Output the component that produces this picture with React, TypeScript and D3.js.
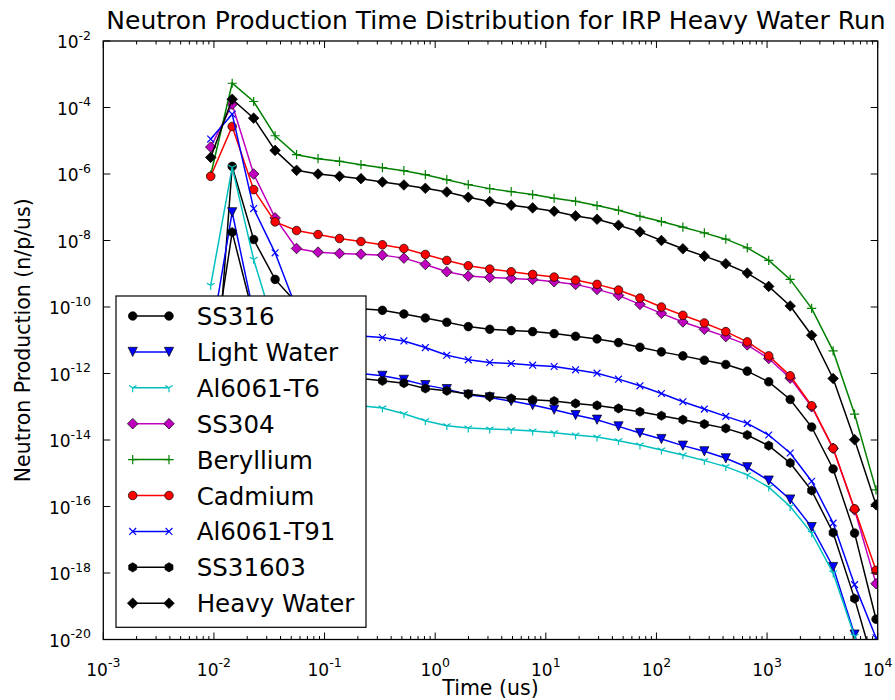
import React from 'react';
import * as d3 from 'd3';

// Bin times (us)
const times = [
  0.00935, 0.01462, 0.02286, 0.03573, 0.05585, 0.0873, 0.1365, 0.2133,
  0.3334, 0.5212, 0.8147, 1.274, 1.991, 3.112, 4.864, 7.603,
  11.89, 18.58, 29.04, 45.39, 70.96, 110.9, 173.4, 271.0,
  423.6, 662.2, 1035, 1618, 2529, 3954, 6180, 9661,
];

// Neutron production per series, stored as log10(n/p/us)
const ss316Log10 = [
  -14.4, -5.77, -7.97, -9.17, -9.88, -9.97, -10.0, -10.05, -10.1, -10.21, -10.33, -10.46, -10.59, -10.67, -10.71, -10.74,
  -10.8, -10.88, -10.96, -11.07, -11.21, -11.35, -11.47, -11.6, -11.73, -11.93, -12.25, -12.78, -13.61, -14.87, -16.8, -19.39,
];
const lightWaterLog10 = [
  -11.0, -7.15, -10.2, -11.0, -11.5, -11.75, -11.9, -12.0, -12.07, -12.19, -12.35, -12.47, -12.64, -12.72, -12.83, -12.95,
  -13.09, -13.25, -13.39, -13.59, -13.79, -13.97, -14.17, -14.34, -14.55, -14.82, -15.22, -15.79, -16.62, -17.82, -19.85, -22.0,
];
const al6061T6Log10 = [
  -9.35, -5.8, -8.57, -10.7, -12.0, -12.5, -12.8, -12.97, -13.04, -13.21, -13.42, -13.57, -13.64, -13.67, -13.69, -13.73,
  -13.78, -13.85, -13.91, -14.02, -14.15, -14.3, -14.45, -14.62, -14.8, -15.05, -15.42, -16.0, -16.8, -18.0, -19.9, -22.0,
];
const ss304Log10 = [
  -5.19, -3.9, -6.0, -7.32, -8.24, -8.35, -8.39, -8.41, -8.44, -8.53, -8.72, -8.94, -9.07, -9.11, -9.14, -9.17,
  -9.24, -9.32, -9.47, -9.65, -9.92, -10.19, -10.45, -10.67, -10.89, -11.14, -11.55, -12.14, -13.0, -14.25, -16.1, -18.32,
];
const berylliumLog10 = [
  -6.03, -3.27, -3.82, -4.85, -5.42, -5.54, -5.62, -5.72, -5.81, -5.9, -6.02, -6.17, -6.32, -6.44, -6.53, -6.62,
  -6.73, -6.82, -6.95, -7.09, -7.27, -7.43, -7.6, -7.77, -7.96, -8.22, -8.6, -9.17, -10.04, -11.32, -13.22, -15.5,
];
const cadmiumLog10 = [
  -6.07, -4.57, -6.47, -7.44, -7.7, -7.82, -7.94, -8.03, -8.13, -8.24, -8.42, -8.6, -8.76, -8.86, -8.94, -9.02,
  -9.1, -9.19, -9.32, -9.49, -9.73, -10.0, -10.25, -10.48, -10.74, -11.05, -11.47, -12.07, -12.97, -14.25, -16.07, -17.92,
];
const al6061T91Log10 = [
  -4.95, -4.2, -7.04, -8.37, -10.05, -10.5, -10.75, -10.87, -10.92, -11.02, -11.22, -11.45, -11.59, -11.67, -11.7, -11.75,
  -11.79, -11.89, -11.99, -12.17, -12.37, -12.6, -12.85, -13.07, -13.29, -13.5, -13.85, -14.39, -15.24, -16.5, -18.35, -19.95,
];
const ss31603Log10 = [
  -12.0, -7.75, -10.3, -11.3, -11.8, -12.0, -12.1, -12.15, -12.22, -12.29, -12.45, -12.52, -12.62, -12.69, -12.75, -12.79,
  -12.83, -12.9, -12.96, -13.05, -13.15, -13.27, -13.39, -13.52, -13.65, -13.85, -14.17, -14.69, -15.52, -16.79, -18.77, -21.0,
];
const heavyWaterLog10 = [
  -5.5, -3.75, -4.32, -5.29, -5.89, -6.0, -6.07, -6.14, -6.24, -6.33, -6.43, -6.54, -6.7, -6.83, -6.94, -7.02,
  -7.12, -7.26, -7.36, -7.54, -7.74, -8.0, -8.25, -8.47, -8.7, -8.98, -9.38, -9.97, -10.85, -12.15, -13.99, -15.95,
];

const seriesNames = ['SS316', 'Light Water', 'Al6061-T6', 'SS304', 'Beryllium', 'Cadmium', 'Al6061-T91', 'SS31603', 'Heavy Water'];
const seriesData = [ss316Log10, lightWaterLog10, al6061T6Log10, ss304Log10, berylliumLog10, cadmiumLog10, al6061T91Log10, ss31603Log10, heavyWaterLog10];
const seriesColors = ['#000000', '#0000ff', '#00bfbf', '#bf00bf', '#008000', '#ff0000', '#0000ff', '#000000', '#000000'];
const seriesMarkers = ['o', 'v', '1', 'D', '+', 'o', 'x', 'h', 'D'];

const xTickExps = [-3, -2, -1, 0, 1, 2, 3, 4];
const yTickExps = [-2, -4, -6, -8, -10, -12, -14, -16, -18, -20];

const W = 895;
const H = 700;
const left = 103.3;
const right = 877.7;
const top = 41;
const bottom = 639.5;

const FONT = 'DejaVu Sans, Verdana, sans-serif';

function Marker({ type, x, y, color }: { type: string; x: number; y: number; color: string }) {
  const edge = { stroke: '#000', strokeWidth: 0.7 };
  switch (type) {
    case 'o':
      return <circle cx={x} cy={y} r={4.3} fill={color} {...edge} />;
    case 'v': {
      const s = 4.6;
      return <path d={`M${x - s},${y - s}L${x + s},${y - s}L${x},${y + s}Z`} fill={color} {...edge} />;
    }
    case 'D': {
      const s = 5.3;
      return <path d={`M${x},${y - s}L${x + s},${y}L${x},${y + s}L${x - s},${y}Z`} fill={color} {...edge} />;
    }
    case 'h': {
      const r = 4.6;
      const pts = d3.range(6).map((i) => {
        const a = (Math.PI / 3) * i - Math.PI / 2;
        return `${x + r * Math.cos(a)},${y + r * Math.sin(a)}`;
      });
      return <polygon points={pts.join(' ')} fill={color} {...edge} />;
    }
    case '+': {
      const s = 4.6;
      return (
        <path d={`M${x - s},${y}L${x + s},${y}M${x},${y - s}L${x},${y + s}`} stroke={color} strokeWidth={1.2} fill="none" />
      );
    }
    case 'x': {
      const s = 3.4;
      return (
        <path d={`M${x - s},${y - s}L${x + s},${y + s}M${x - s},${y + s}L${x + s},${y - s}`} stroke={color} strokeWidth={1.2} fill="none" />
      );
    }
    case '1': {
      const r = 4.4;
      return (
        <path
          d={`M${x},${y}L${x},${y + r}M${x},${y}L${x - 0.866 * r},${y - 0.5 * r}M${x},${y}L${x + 0.866 * r},${y - 0.5 * r}`}
          stroke={color}
          strokeWidth={1.2}
          fill="none"
        />
      );
    }
    default:
      return null;
  }
}

function PowerLabel({ x, y, exp, anchor }: { x: number; y: number; exp: number; anchor: 'middle' | 'end' }) {
  return (
    <text x={x} y={y} textAnchor={anchor} fontFamily={FONT} fontSize={17} fill="#000">
      10
      <tspan dy={-8.5} fontSize={12.5}>
        {exp < 0 ? `\u2212${Math.abs(exp)}`.replace('\u2212', '-') : `${exp}`}
      </tspan>
    </text>
  );
}

export default function App() {
  const x = d3.scaleLog().domain([1e-3, 1e4]).range([left, right]);
  const y = d3.scaleLog().domain([1e-20, 1e-2]).range([bottom, top]);

  const line = d3
    .line<[number, number]>()
    .x((d) => x(d[0]))
    .y((d) => y(d[1]));

  const minorX: number[] = [];
  for (let e = -3; e < 4; e++) {
    for (let m = 2; m <= 9; m++) minorX.push(m * Math.pow(10, e));
  }

  const legX0 = 116;
  const legY0 = 296;
  const legW = 250;
  const legH = 331.3;
  const rowH = 35.9;

  return (
    <svg
      width={W}
      height={H}
      viewBox={`0 0 ${W} ${H}`}
      style={{ position: 'absolute', left: 0, top: 0, background: '#fff' }}
    >
      <rect x={0} y={0} width={W} height={H} fill="#fff" />
      <defs>
        <clipPath id="plot-area">
          <rect x={left} y={top} width={right - left} height={bottom - top} />
        </clipPath>
      </defs>

      <g clipPath="url(#plot-area)">
        {seriesData.map((vals, si) => {
          const pts: [number, number][] = vals.map((v, i) => [times[i], Math.pow(10, v)]);
          return (
            <g key={seriesNames[si]}>
              <path d={line(pts) || ''} fill="none" stroke={seriesColors[si]} strokeWidth={1.5} />
              {pts.map((p, i) => (
                <Marker key={i} type={seriesMarkers[si]} x={x(p[0])} y={y(p[1])} color={seriesColors[si]} />
              ))}
            </g>
          );
        })}
      </g>

      {/* axes frame */}
      <rect x={left} y={top} width={right - left} height={bottom - top} fill="none" stroke="#000" strokeWidth={1.3} />

      {/* x ticks */}
      {xTickExps.map((e) => {
        const px = x(Math.pow(10, e));
        return (
          <g key={`xt${e}`}>
            <line x1={px} x2={px} y1={bottom} y2={bottom - 7} stroke="#000" strokeWidth={1} />
            <line x1={px} x2={px} y1={top} y2={top + 7} stroke="#000" strokeWidth={1} />
            <PowerLabel x={px} y={bottom + 36} exp={e} anchor="middle" />
          </g>
        );
      })}
      {minorX.map((v, i) => {
        const px = x(v);
        return (
          <g key={`xm${i}`}>
            <line x1={px} x2={px} y1={bottom} y2={bottom - 3.5} stroke="#000" strokeWidth={1} />
            <line x1={px} x2={px} y1={top} y2={top + 3.5} stroke="#000" strokeWidth={1} />
          </g>
        );
      })}

      {/* y ticks */}
      {yTickExps.map((e) => {
        const py = y(Math.pow(10, e));
        return (
          <g key={`yt${e}`}>
            <line x1={left} x2={left + 7} y1={py} y2={py} stroke="#000" strokeWidth={1} />
            <line x1={right} x2={right - 7} y1={py} y2={py} stroke="#000" strokeWidth={1} />
            <PowerLabel x={91} y={py + 7.3} exp={e} anchor="end" />
          </g>
        );
      })}

      {/* titles */}
      <text x={496} y={29} textAnchor="middle" fontFamily={FONT} fontSize={25} fill="#000">
        Neutron Production Time Distribution for IRP Heavy Water Run
      </text>
      <text x={490.5} y={695} textAnchor="middle" fontFamily={FONT} fontSize={20.5} fill="#000">
        Time (us)
      </text>
      <text
        transform={`translate(30,${(top + bottom) / 2}) rotate(-90)`}
        textAnchor="middle"
        fontFamily={FONT}
        fontSize={20.5}
        fill="#000"
      >
        Neutron Production (n/p/us)
      </text>

      {/* legend */}
      <g>
        <rect x={legX0} y={legY0} width={legW} height={legH} fill="#fff" stroke="#000" strokeWidth={1.2} />
        {seriesNames.map((name, i) => {
          const cy = legY0 + 20 + i * rowH;
          const x1 = 132.7;
          const x2 = 169;
          return (
            <g key={`leg${name}`}>
              <line x1={x1} x2={x2} y1={cy} y2={cy} stroke={seriesColors[i]} strokeWidth={1.5} />
              <Marker type={seriesMarkers[i]} x={x1} y={cy} color={seriesColors[i]} />
              <Marker type={seriesMarkers[i]} x={x2} y={cy} color={seriesColors[i]} />
              <text x={196.7} y={cy + 9} fontFamily={FONT} fontSize={24.5} fill="#000">
                {name}
              </text>
            </g>
          );
        })}
      </g>
    </svg>
  );
}
